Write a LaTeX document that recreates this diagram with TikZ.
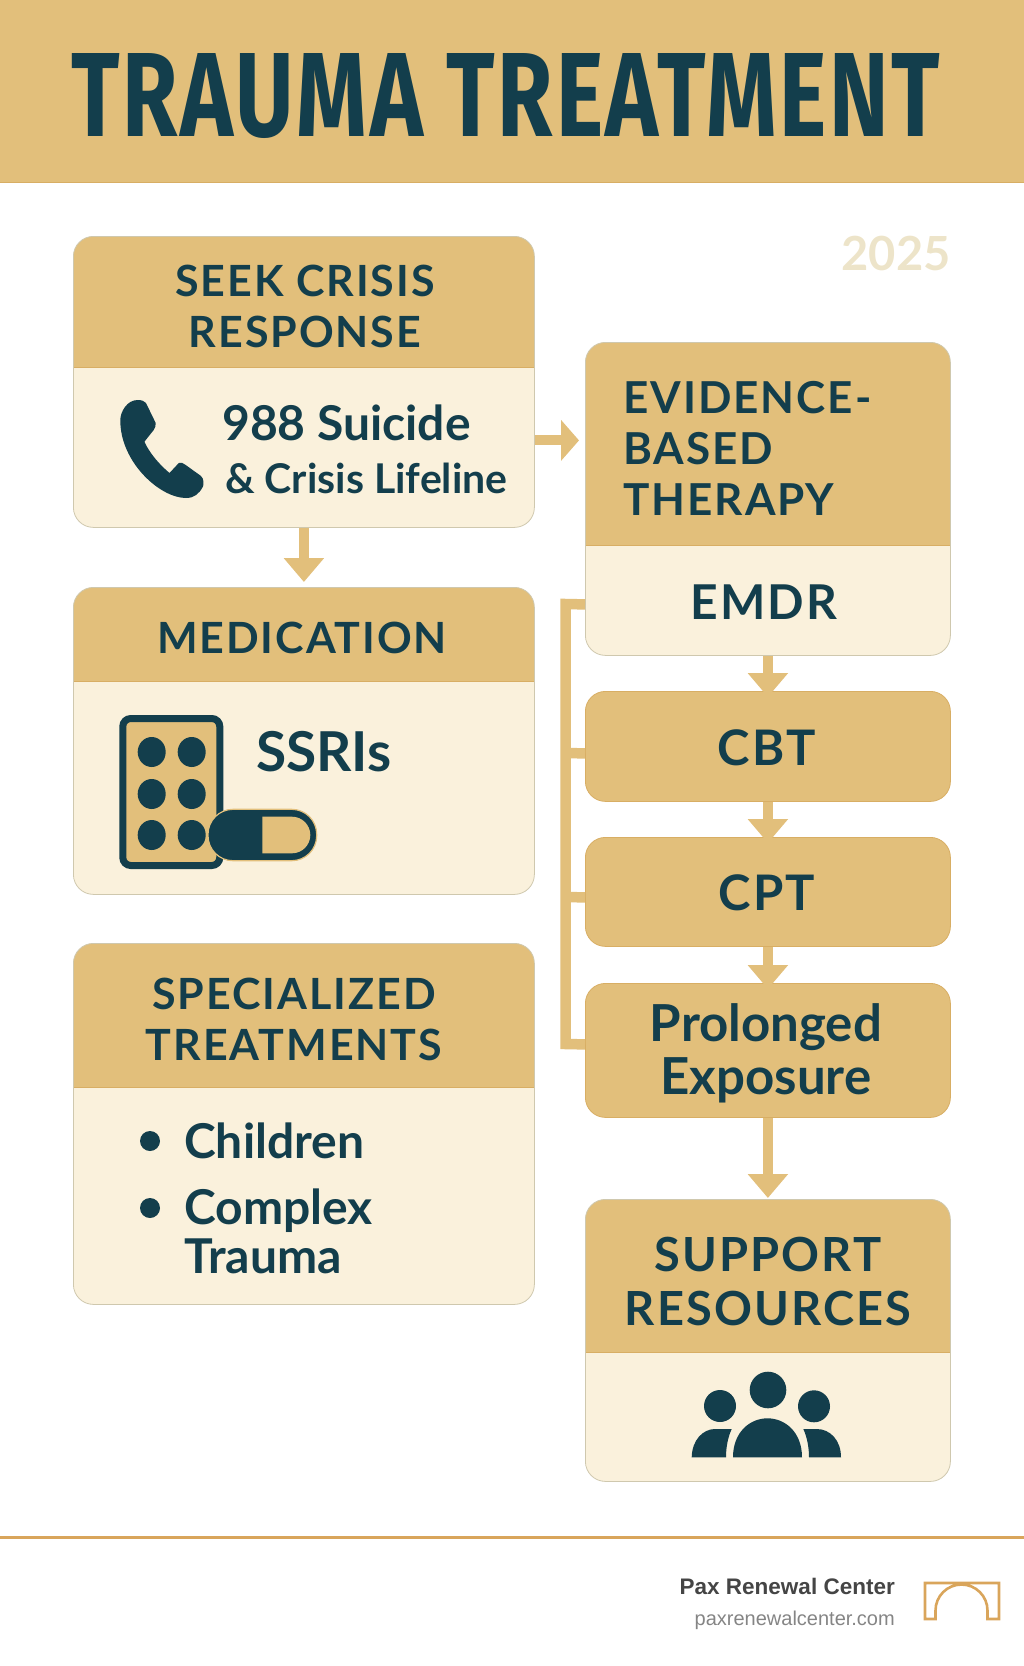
\documentclass[tikz,border=0pt]{standalone}
\usepackage{fontspec}
\setmainfont{Lato}
\newfontfamily\headfont[LetterSpace=4.5]{Lato}
\newfontfamily\bodyfont{Lato}
\newfontfamily\titlefont[LetterSpace=3]{Fira Sans}
\newfontfamily\footfont{Liberation Sans}
\usepackage{tikz}
\usetikzlibrary{
  positioning,
  arrows.meta
}
\definecolor{gold}{HTML}{E2BF7B}
\definecolor{goldedge}{HTML}{D8AE64}
\definecolor{cream}{HTML}{FAF1DC}
\definecolor{creamedge}{HTML}{CFC8AE}
\definecolor{navy}{HTML}{133E4C}
\definecolor{rust}{HTML}{D9A55B}
\definecolor{ghost}{HTML}{EDE4C9}
\tikzset{
  cardbox/.style={draw=creamedge, line width=0.8pt, fill=cream, rounded corners=20pt, inner sep=0pt, anchor=north west,
    path picture={\fill[gold, sharp corners] (path picture bounding box.north west) rectangle ([yshift=-#1pt]path picture bounding box.north east);
      \draw[goldedge, line width=0.8pt] ([yshift=-#1pt]path picture bounding box.north west) -- ([yshift=-#1pt]path picture bounding box.north east);}},
  goldbox/.style={draw=goldedge, line width=0.8pt, fill=gold, rounded corners=20pt, inner sep=0pt, anchor=north west},
  headtext/.style={text=navy, inner sep=0pt, font=\headfont\bfseries\fontsize{43}{51}\selectfont, align=center},
  bodytext/.style={text=navy, inner sep=0pt, font=\bodyfont\bfseries\fontsize{48}{49}\selectfont, align=center},
  flowarrow/.style={draw=gold, line width=10pt, -{Triangle[width=39pt,length=24pt]}},
  branchline/.style={draw=gold, line width=10.5pt},
  icon/.style={fill=navy}
}
\begin{document}
\begin{tikzpicture}[x=1pt,y=-1pt]
	\useasboundingbox (0,0) rectangle (1024,1666);

	% banner
	\fill[gold] (0,0) rectangle (1024,182);
	\draw[goldedge, line width=1pt] (0,182) -- (1024,182);
	\node[text=navy, inner sep=0pt] (title) at (506,96.5) {\resizebox{868pt}{83pt}{\titlefont\bfseries TRAUMA TREATMENT}};

	% year
	\node[text=ghost, inner sep=0pt, font=\bfseries\fontsize{47}{50}\selectfont] (year) at (896,254) {2025};

	% left column
	\node[cardbox=131, minimum width=461pt, minimum height=291pt] (seekbox) at (73,236) {};
	\node[cardbox=94, minimum width=461pt, minimum height=307pt] (medbox) at (73,587) {};
	\node[cardbox=144, minimum width=461pt, minimum height=361pt] (specbox) at (73,943) {};

	\node[headtext] (seekhead) at (305,306) {SEEK CRISIS\\RESPONSE};
	\node[headtext] (medhead) at (302,638) {MEDICATION};
	\node[headtext] (spechead) at (294,1019) {SPECIALIZED\\TREATMENTS};

	\node[bodytext, anchor=west] (lifeline) at (222,423) {988 Suicide};
	\node[bodytext, anchor=west, font=\bodyfont\bfseries\fontsize{41}{46}\selectfont] (crisisline) at (225,478) {\& Crisis Lifeline};
	\node[bodytext, anchor=west, font=\bodyfont\bfseries\fontsize{55}{56}\selectfont] (ssris) at (256,752) {SSRIs};
	\node[bodytext, anchor=west] (children) at (184,1141) {Children};
	\node[bodytext, anchor=west, align=left] (complex) at (184,1231) {Complex\\Trauma};
	\fill[icon] (150,1141) circle (10);
	\fill[icon] (150,1208) circle (10);

	% phone
	\fill[icon] (137.5,400) .. controls (142,400) and (144,401) .. (146,403) -- (155.7,423)
		.. controls (156,426) and (155,428) .. (153.7,430) -- (144.4,441.7)
		.. controls (150,454) and (160,465) .. (169.5,473) -- (178.8,463)
		.. controls (181,462) and (183,463) .. (185.7,465) -- (201,476)
		.. controls (204,479) and (204,484) .. (202.9,486.7)
		.. controls (199,494) and (194,498) .. (186,498)
		.. controls (160,498) and (120,462) .. (120.3,420)
		.. controls (120.3,412) and (127,400) .. (137.5,400) -- cycle;

	% pill pack
	\draw[navy, line width=7pt, fill=gold, rounded corners=8pt] (122.8,718.5) rectangle (219.8,865.5);
	\foreach \px in {151.7,191.7}
		\foreach \py in {752,794,835}
			\fill[icon] (\px,\py) ellipse (14 and 15);
	\draw[gold, line width=1.2pt, fill=navy, rounded corners=25pt] (208,809.3) rectangle (316.7,860.7);
	\fill[gold] (262.3,816.7) -- (292,816.7) arc[start angle=-90,end angle=90,radius=18.3] -- (262.3,853.3) -- cycle;

	% right column
	\node[cardbox=203, minimum width=365pt, minimum height=313pt] (ebtbox) at (585,342) {};
	\node[goldbox, minimum width=365pt, minimum height=110pt] (cbtbox) at (585,691) {};
	\node[goldbox, minimum width=365pt, minimum height=109pt] (cptbox) at (585,837) {};
	\node[goldbox, minimum width=365pt, minimum height=134pt] (pebox) at (585,983) {};
	\node[cardbox=153, minimum width=365pt, minimum height=282pt] (supportbox) at (585,1199) {};

	\node[headtext, anchor=west, align=left, font=\headfont\bfseries\fontsize{44}{51}\selectfont] (ebthead) at (623,448) {EVIDENCE-\\BASED\\THERAPY};
	\node[headtext, font=\headfont\bfseries\fontsize{48}{52}\selectfont] (emdr) at (764,602) {EMDR};
	\node[headtext, font=\headfont\bfseries\fontsize{49}{52}\selectfont] (cbt) at (767,748) {CBT};
	\node[headtext, font=\headfont\bfseries\fontsize{49}{52}\selectfont] (cpt) at (767,893) {CPT};
	\node[bodytext, font=\bodyfont\bfseries\fontsize{51}{53}\selectfont] (prolonged) at (766,1053) {Prolonged\\Exposure};
	\node[headtext, font=\headfont\bfseries\fontsize{47}{54}\selectfont] (supporthead) at (768,1281) {SUPPORT\\RESOURCES};

	% people
	\fill[icon] (768,1390) circle (18.3);
	\fill[icon] (720,1406) circle (16);
	\fill[icon] (814,1406.3) circle (16);
	\fill[icon] (733,1457.3) .. controls (733,1432) and (750,1418.3) .. (767.5,1418.3) .. controls (785,1418.3) and (802,1432) .. (802,1457.3) -- cycle;
	\fill[icon] (691.7,1457.3) .. controls (692,1440) and (703,1429) .. (715,1429) -- (731.7,1429) .. controls (728,1437) and (726,1447) .. (726,1457.3) -- cycle;
	\fill[icon] (809,1457.3) .. controls (809,1447) and (807,1437) .. (803.3,1429) -- (816.7,1429) .. controls (830,1429) and (841,1440) .. (841,1457.3) -- cycle;

	% arrows
	\coordinate (seekout) at ([yshift=-58.5pt]seekbox.east);
	\draw[flowarrow, shorten >=5pt] (seekbox.south) -- (medbox.north);
	\draw[flowarrow, -{Triangle[width=40pt,length=18pt]}, shorten >=6pt] (seekout) -- (seekout -| ebtbox.west);
	\draw[flowarrow, shorten >=-6pt] (ebtbox.south) -- (cbtbox.north);
	\draw[flowarrow, shorten >=-6pt] (cbtbox.south) -- (cptbox.north);
	\draw[flowarrow, shorten >=-6pt] (cptbox.south) -- (pebox.north);
	\draw[flowarrow, shorten >=1pt] (pebox.south) -- (supportbox.north);

	% bracket
	\draw[branchline] ([yshift=-105.5pt]ebtbox.west) -- (565.5,604) -- (565.5,1044) -- ([yshift=6pt]pebox.west);
	\draw[branchline] (565.5,753) -- ([yshift=-7pt]cbtbox.west);
	\draw[branchline] (565.5,897) -- ([yshift=-5.5pt]cptbox.west);

	% footer
	\draw[rust, line width=3pt] (0,1537) -- (1024,1537);
	\node[anchor=east, inner sep=0pt, text=black!73, font=\footfont\bfseries\fontsize{22.5}{28}\selectfont] (paxname) at (895,1586) {Pax Renewal Center};
	\node[anchor=east, inner sep=0pt, text=black!48, font=\footfont\fontsize{20}{24}\selectfont] (paxurl) at (895,1620) {paxrenewalcenter.com};
	\draw[rust, line width=2.6pt] (925,1583) -- (999,1583) -- (999,1619) -- (987.5,1619) -- (987.5,1610.5) arc[start angle=0,end angle=-180,radius=26] -- (935.5,1619) -- (925,1619) -- cycle;
\end{tikzpicture}
\end{document}
